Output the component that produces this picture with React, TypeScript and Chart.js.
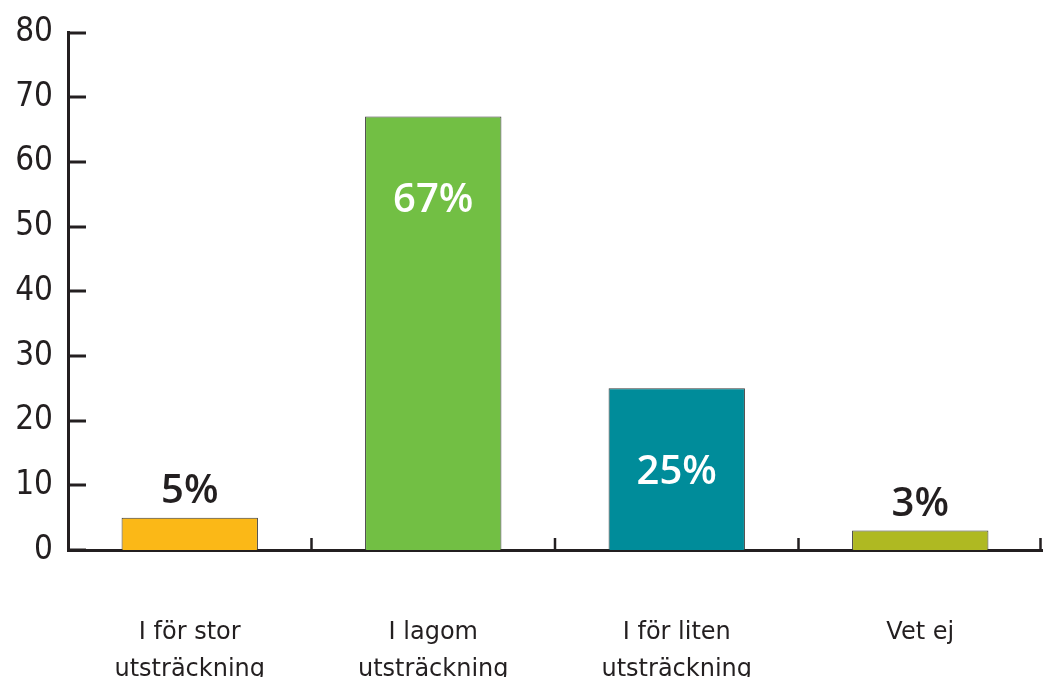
import React, { useEffect, useRef } from "react";
import { Chart, registerables } from "chart.js";

Chart.register(...registerables);

const categories: string[][] = [
  ["I för stor", "utsträckning"],
  ["I lagom", "utsträckning"],
  ["I för liten", "utsträckning"],
  ["Vet ej"],
];
const values: number[] = [5, 67, 25, 3];
const valueLabels: string[] = ["5%", "67%", "25%", "3%"];
const barColors: string[] = ["#FBB817", "#72BF44", "#008C9A", "#AFB922"];
const yMin = 0;
const yMax = 80;
const yStep = 10;

const INK = "#231f20";

const decorPlugin = {
  id: "decor",
  afterDraw(chart: any) {
    const ctx = chart.ctx;
    const xs = chart.scales.x;
    const ys = chart.scales.y;
    const area = chart.chartArea;
    ctx.save();
    ctx.strokeStyle = INK;
    // inward y ticks
    ctx.lineWidth = 3;
    ys.ticks.forEach((t: any) => {
      const py = Math.round(ys.getPixelForValue(t.value));
      ctx.beginPath();
      ctx.moveTo(area.left, py);
      ctx.lineTo(area.left + 18, py);
      ctx.stroke();
    });
    // upward x ticks at category boundaries
    ctx.lineWidth = 2.5;
    const n = categories.length;
    for (let i = 0; i < n; i++) {
      let px: number;
      if (i < n - 1) {
        px = (xs.getPixelForValue(i) + xs.getPixelForValue(i + 1)) / 2;
      } else {
        px = xs.getPixelForValue(i) + (xs.getPixelForValue(i) - xs.getPixelForValue(i - 1)) / 2 - 1.5;
      }
      ctx.beginPath();
      ctx.moveTo(px, area.bottom);
      ctx.lineTo(px, area.bottom - 12);
      ctx.stroke();
    }
    // value labels
    const meta = chart.getDatasetMeta(0);
    ctx.font = "600 40px 'Open Sans', sans-serif";
    ctx.textAlign = "center";
    meta.data.forEach((el: any, i: number) => {
      const v = values[i];
      if (v > 10) {
        ctx.fillStyle = "#ffffff";
        ctx.textBaseline = "middle";
        ctx.fillText(valueLabels[i], el.x, el.y + 84);
      } else {
        ctx.fillStyle = INK;
        ctx.textBaseline = "alphabetic";
        ctx.fillText(valueLabels[i], el.x, el.y - 15);
      }
    });
    ctx.restore();
  },
};

export default function App() {
  const ref = useRef<HTMLCanvasElement | null>(null);

  useEffect(() => {
    document.body.style.margin = "0";
    if (!ref.current) return;
    const chart = new Chart(ref.current, {
      type: "bar",
      data: {
        labels: categories,
        datasets: [
          {
            data: values,
            backgroundColor: barColors,
            borderColor: "#3a3a3a",
            borderWidth: 1,
            barPercentage: 0.56,
            categoryPercentage: 1,
          },
        ],
      },
      options: {
        responsive: false,
        animation: false,
        layout: { padding: { top: 32.5, right: 1, left: 0, bottom: 0 } },
        plugins: {
          legend: { display: false },
          tooltip: { enabled: false },
        },
        scales: {
          x: {
            grid: { display: false },
            border: { display: true, color: INK, width: 3 },
            ticks: {
              color: INK,
              padding: 56,
              maxRotation: 0,
              font: { family: "'DejaVu Sans', sans-serif", size: 24, lineHeight: 1.55 },
            },
            afterFit(scale: any) {
              scale.height = 127;
            },
          },
          y: {
            min: yMin,
            max: yMax,
            grid: { display: false },
            border: { display: true, color: INK, width: 3 },
            ticks: {
              stepSize: yStep,
              color: INK,
              padding: 7,
              font: { family: "'Liberation Sans Narrow', 'DejaVu Sans Condensed', sans-serif", size: 33 },
            },
            afterFit(scale: any) {
              scale.width = 68;
            },
          },
        },
      },
      plugins: [decorPlugin],
    });
    return () => chart.destroy();
  }, []);

  return (
    <div style={{ width: 1043, height: 677 }}>
      <canvas ref={ref} width={1043} height={677} />
    </div>
  );
}
